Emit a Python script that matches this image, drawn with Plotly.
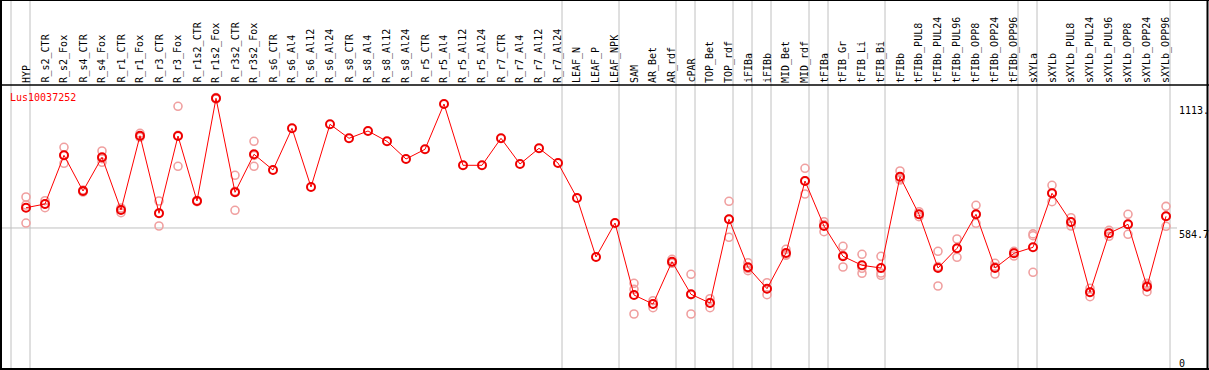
import plotly.graph_objects as go

W, H = 1209, 370

categories = ["HYP", "R_s2_CTR", "R_s2_Fox", "R_s4_CTR", "R_s4_Fox", "R_r1_CTR", "R_r1_Fox",
              "R_r3_CTR", "R_r3_Fox", "R_r1s2_CTR", "R_r1s2_Fox", "R_r3s2_CTR", "R_r3s2_Fox",
              "R_s6_CTR", "R_s6_Al4", "R_s6_Al12", "R_s6_Al24", "R_s8_CTR", "R_s8_Al4", "R_s8_Al12",
              "R_s8_Al24", "R_r5_CTR", "R_r5_Al4", "R_r5_Al12", "R_r5_Al24", "R_r7_CTR", "R_r7_Al4",
              "R_r7_Al12", "R_r7_Al24", "LEAF_N", "LEAF_P", "LEAF_NPK", "SAM", "AR_Bet", "AR_rdf",
              "cPAR", "TOP_Bet", "TOP_rdf", "iFIBa", "iFIBb", "MID_Bet", "MID_rdf", "tFIBa",
              "tFIB_Gr", "tFIB_Li", "tFIB_Bi", "tFIBb", "tFIBb_PUL8", "tFIBb_PUL24", "tFIBb_PUL96",
              "tFIBb_OPP8", "tFIBb_OPP24", "tFIBb_OPP96", "sXYLa", "sXYLb", "sXYLb_PUL8",
              "sXYLb_PUL24", "sXYLb_PUL96", "sXYLb_OPP8", "sXYLb_OPP24", "sXYLb_OPP96"]

mean_values = [671.0, 686.8, 894.3, 742.2, 885.8, 661.2, 977.8, 647.2, 976.5, 699.6, 1137.2,
               736.7, 898.6, 831.7, 1009.3, 759.2, 1026.4, 966.7, 997.8, 953.9, 878.5, 919.9,
               1112.9, 851.7, 851.7, 966.7, 857.2, 924.1, 861.5, 712.4, 461.0, 605.8, 299.1,
               260.7, 441.0, 302.0, 265.0, 621.6, 417.1, 325.9, 478.0, 784.8, 593.1, 464.0,
               425.6, 414.1, 803.1, 642.9, 414.1, 498.0, 642.9, 414.1, 476.7, 502.3, 732.4,
               610.1, 310.6, 562.0, 600.3, 334.4, 634.4]

rep_a = [716.6, 700.9, 928.4, 738.0, 912.6, 669.8, 988.0, 699.6, 1103.1, 702.0, 1134.0, 809.1, 954.0,
         None, None, None, None, None, None, None, None, None, None, None, None, None, None, None,
         None, None, None, None, 349.0, 274.8, 451.2, 387.3, 283.3, 698.3, 436.7, 351.5, 493.8,
         838.9, 611.4, 506.6, 472.5, 464.0, 827.4, 654.0, 485.3, 537.7, 681.3, 434.2, 485.3,
         551.7, 766.5, 628.4, 327.6, 574.8, 642.9, 349.0, 676.9]
rep_b = [682.5, 671.0, 860.2, 742.0, 864.5, 649.7, 971.0, 593.1, 847.4, 697.0, 1140.0, 660.0, 847.4,
         None, None, None, None, None, None, None, None, None, None, None, None, None, None, None,
         None, None, None, None, 323.4, 245.0, 434.2, 218.1, 245.0, 544.9, 402.6, 300.4, 468.3,
         729.4, 568.8, 418.4, 391.5, 383.0, 789.1, 632.7, 337.4, 459.7, 604.6, 388.6, 465.3,
         395.8, 696.6, 593.1, 291.8, 549.2, 557.7, 313.2, 591.8]
rep_c = [605.8, 686.8, 894.3, 746.0, 880.0, 664.0, 975.0, 649.0, 979.0, 700.0, 1137.0, 741.0, 894.0,
         None, None, None, None, None, None, None, None, None, None, None, None, None, None, None,
         None, None, None, None, 218.1, 262.0, 437.0, 300.6, 266.7, 621.6, 412.0, 325.8, 472.0,
         786.0, 599.0, 467.0, 412.8, 392.8, 793.0, 642.0, 420.0, 496.6, 642.8, 419.5, 479.5,
         559.4, 734.0, 608.8, 312.4, 562.0, 600.3, 341.0, 634.4]

group_ends = [-1, 0, 28, 31, 34, 35, 37, 38, 39, 41, 42, 45, 52, 53, 60]
axis_labels = ["1113.", "584.7", "0"]
axis_values = [1113.0, 584.7, 0.0]
gene_name = "Lus10037252"

# pixel geometry helpers
X0, DX = 26.0, 19.0
x_min, x_max = -X0 / DX, (W - X0) / DX
y_min, y_max = -20.45, 1556.0


def px_x(p):
    return p / W


def px_y(p):
    return 1 - p / H


idx = list(range(len(categories)))
fig = go.Figure()

rep_x, rep_y = [], []
for reps in (rep_a, rep_b, rep_c):
    for i, v in enumerate(reps):
        if v is not None:
            rep_x.append(i)
            rep_y.append(v)

fig.add_trace(go.Scatter(x=rep_x, y=rep_y, mode="markers",
                         marker=dict(symbol="circle-open", size=8, color="#f0a0a0",
                                     line=dict(width=1.6, color="#f0a0a0")),
                         showlegend=False, hoverinfo="skip", cliponaxis=False))
fig.add_trace(go.Scatter(x=idx, y=mean_values, mode="lines+markers",
                         line=dict(color="#ff0000", width=1),
                         marker=dict(symbol="circle-open", size=8, color="#ee0000",
                                     line=dict(width=2, color="#ee0000")),
                         showlegend=False, cliponaxis=False))

shapes = []
gray = "#c0c0c0"
for g in group_ends:
    xv = g + 4.0 / DX
    shapes.append(dict(type="line", xref="x", yref="paper", x0=xv, x1=xv, y0=px_y(369), y1=1,
                       line=dict(color=gray, width=1), layer="below"))
shapes.append(dict(type="line", xref="x", yref="y", x0=(1 - X0) / DX, x1=(1177 - X0) / DX,
                   y0=axis_values[1], y1=axis_values[1], line=dict(color=gray, width=1), layer="below"))
# frame
blk = dict(color="black", width=2)
shapes.append(dict(type="line", xref="paper", yref="paper", x0=px_x(0), x1=1, y0=px_y(0.5), y1=px_y(0.5), line=dict(color="black", width=1)))
shapes.append(dict(type="line", xref="paper", yref="paper", x0=px_x(0), x1=1, y0=px_y(85), y1=px_y(85), line=dict(color="black", width=1.5)))
shapes.append(dict(type="line", xref="paper", yref="paper", x0=px_x(0), x1=1, y0=px_y(369), y1=px_y(369), line=blk))
shapes.append(dict(type="line", xref="paper", yref="paper", x0=px_x(1), x1=px_x(1), y0=0, y1=1, line=blk))
shapes.append(dict(type="line", xref="paper", yref="paper", x0=px_x(1207.5), x1=px_x(1207.5), y0=0, y1=1, line=blk))

mono = "DejaVu Sans Mono"
annotations = []
for i, c in enumerate(categories):
    annotations.append(dict(x=i, xref="x", y=px_y(84), yref="paper", text=c, textangle=-90,
                            showarrow=False, xanchor="center", yanchor="bottom",
                            font=dict(family=mono, size=10, color="black"), borderpad=0))
for lab, v in zip(axis_labels, axis_values):
    yy = v if v > 0 else 35.0
    annotations.append(dict(x=px_x(1177.5), xref="paper", y=yy, yref="y", text=lab,
                            showarrow=False, xanchor="left", yanchor="top",
                            font=dict(family=mono, size=10, color="black"), borderpad=0))
annotations.append(dict(x=px_x(8.5), xref="paper", y=px_y(97), yref="paper", text=gene_name,
                        showarrow=False, xanchor="left", yanchor="middle",
                        font=dict(family=mono, size=10, color="#ff0000"), borderpad=0))

fig.update_layout(width=W, height=H, margin=dict(l=0, r=0, t=0, b=0, pad=0),
                  paper_bgcolor="white", plot_bgcolor="white",
                  xaxis=dict(range=[x_min, x_max], visible=False, domain=[0, 1]),
                  yaxis=dict(range=[y_min, y_max], visible=False, domain=[0, 1]),
                  shapes=shapes, annotations=annotations, showlegend=False)

fig.write_html("out.html", config={"displayModeBar": False},
               post_script="document.body.style.margin='0';document.body.style.overflow='hidden';")
